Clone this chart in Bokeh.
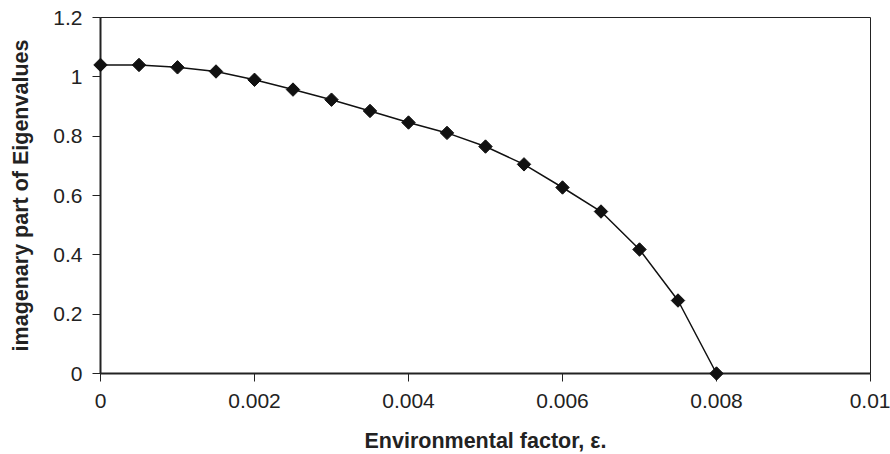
import math
from bokeh.plotting import figure
from bokeh.models import Range1d, FixedTicker
from bokeh.embed import file_html
from bokeh.resources import INLINE

eps = [0.0, 0.0005, 0.001, 0.0015, 0.002, 0.0025, 0.003, 0.0035, 0.004,
       0.0045, 0.005, 0.0055, 0.006, 0.0065, 0.007, 0.0075, 0.008]
imag = [1.040, 1.040, 1.032, 1.018, 0.990, 0.957, 0.923, 0.885, 0.846,
        0.811, 0.765, 0.705, 0.627, 0.546, 0.418, 0.246, 0.0]

x_ticks = [0, 0.002, 0.004, 0.006, 0.008, 0.01]
x_tick_labels = ["0", "0.002", "0.004", "0.006", "0.008", "0.01"]
y_ticks = [0, 0.2, 0.4, 0.6, 0.8, 1.0, 1.2]
y_tick_labels = ["0", "0.2", "0.4", "0.6", "0.8", "1", "1.2"]

FONT = "Liberation Sans"

p = figure(width=890, height=454, output_backend="svg", toolbar_location=None,
           x_range=Range1d(0, 0.01), y_range=Range1d(0, 1.2),
           min_border_left=100, min_border_right=20, min_border_top=17,
           min_border_bottom=81)
p.frame_width = 770
p.frame_height = 356

p.grid.visible = False
p.outline_line_color = "#222222"
p.outline_line_width = 1
p.background_fill_color = "white"
p.border_fill_color = "white"

for ax in (p.xaxis[0], p.yaxis[0]):
    ax.axis_line_color = "#222222"
    ax.axis_line_width = 2
    ax.major_tick_line_color = "#222222"
    ax.major_tick_line_width = 1
    ax.major_tick_out = 8
    ax.major_tick_in = 0
    ax.minor_tick_line_color = None
    ax.major_label_text_font = FONT
    ax.major_label_text_font_size = "21px"
    ax.major_label_text_color = "#222222"
    ax.axis_label_text_font = FONT
    ax.axis_label_text_font_size = "21.5px"
    ax.axis_label_text_font_style = "bold"
    ax.axis_label_text_color = "#222222"

p.xaxis[0].ticker = FixedTicker(ticks=x_ticks)
p.xaxis[0].major_label_overrides = {t: l for t, l in zip(x_ticks, x_tick_labels)}
p.yaxis[0].ticker = FixedTicker(ticks=y_ticks)
p.yaxis[0].major_label_overrides = {t: l for t, l in zip(y_ticks, y_tick_labels)}

p.xaxis[0].axis_label = "Environmental factor, \u03b5."
p.yaxis[0].axis_label = "imagenary part of Eigenvalues"
p.xaxis[0].major_label_standoff = 12
p.xaxis[0].axis_label_standoff = 18
p.yaxis[0].major_label_standoff = 10
p.yaxis[0].axis_label_standoff = 17

p.line(eps, imag, line_color="#111111", line_width=1.5)
r = p.scatter(eps, imag, marker="square", angle=math.pi / 4, size=9.5,
              fill_color="#111111", line_color="#111111")
r.level = "overlay"

open("out.html", "w").write(file_html(p, INLINE))
